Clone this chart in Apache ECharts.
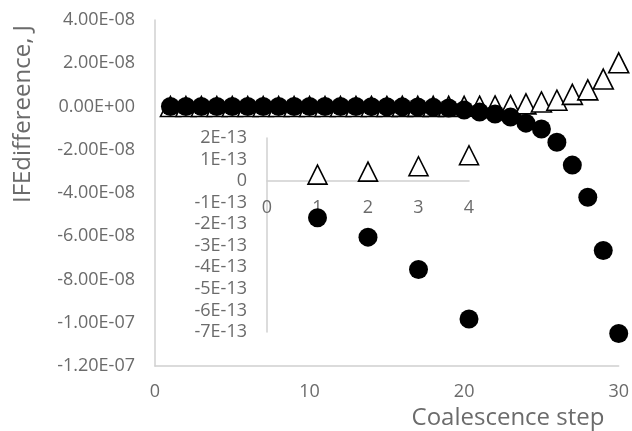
<!DOCTYPE html>
<html><head><meta charset="utf-8">
<script src="https://cdn.jsdelivr.net/npm/echarts@6/dist/echarts.min.js"></script>
<style>html,body{margin:0;padding:0;background:#fff}#c{width:632px;height:431px}</style>
</head><body><div id="c"></div>
<script>
// Coalescence steps
const steps = [1,2,3,4,5,6,7,8,9,10,11,12,13,14,15,16,17,18,19,20,21,22,23,24,25,26,27,28,29,30];
// Filled circles series (J)
const circleValues = [-1.7e-13,-2.6e-13,-4.1e-13,-6.4e-13,-1.0e-12,-1.6e-12,-2.5e-12,-4e-12,-6e-12,-1e-11,
  -1.5e-11,-2.5e-11,-4e-11,-6e-11,-1e-10,-1.6e-10,-2.5e-10,-4e-10,-7e-10,-1.6e-9,
  -2.6e-9,-3.5e-9,-4.9e-9,-7.7e-9,-1.04e-8,-1.65e-8,-2.71e-8,-4.2e-8,-6.66e-8,-1.05e-7];
// Open triangles series (J)
const triangleValues = [3e-14,4.4e-14,6.9e-14,1.2e-13,2e-13,3e-13,5e-13,8e-13,1.3e-12,2e-12,
  3.5e-12,6e-12,1e-11,1.6e-11,2.6e-11,4e-11,5e-11,6e-11,8e-11,1e-10,
  1.5e-10,2.5e-10,5e-10,1.2e-9,2.1e-9,2.9e-9,5.6e-9,7.7e-9,1.27e-8,2.02e-8];
// Inset: first four steps
const insetSteps = steps.slice(0,4);
const insetCircleValues = circleValues.slice(0,4);
const insetTriangleValues = triangleValues.slice(0,4);

const xTitle = 'Coalescence step';
const yTitle = 'IFEdiffereence, J';

const FONT = 'Open Sans';
const LBL = '#6b6b6b';
const AX = '#d0d0d0';
const FS = 18;

function mainFmt(v){
  const s = v.toExponential(2);
  const parts = s.split('e');
  const sign = parts[1][0] === '-' ? '-' : '+';
  let d = parts[1].replace(/[+-]/,'');
  if (d.length < 2) d = '0' + d;
  return parts[0] + 'E' + sign + d;
}
function insetFmt(v){
  if (Math.abs(v) < 1e-15) return '0';
  return v.toExponential(0).replace('e','E').replace('+','');
}
const pair = (xs, ys) => xs.map((x,i)=>[x, ys[i]]);

const insetMin = -7e-13, insetMax = 2e-13;
const insetTop = 138, insetH = 194;
// height of the upper part of the inset (from top down to the zero line)
const insetUpperH = insetH * insetMax / (insetMax - insetMin);

const chart = echarts.init(document.getElementById('c'), null, {renderer:'canvas'});
const triStyle = {color:'#ffffff', borderColor:'#000000', borderWidth:1.6, opacity:1};
const circStyle = {color:'#000000', opacity:1};
const noTick = {show:false};
chart.setOption({
  animation:false,
  grid:[
    {left:155, right:10, top:20, bottom:65},
    {left:267, top:insetTop, width:202, height:insetH},
    {left:267, top:insetTop, width:202, height:insetUpperH}
  ],
  xAxis:[
    {gridIndex:0, type:'value', min:0, max:30, interval:10,
     axisLine:{onZero:false, lineStyle:{color:AX, width:1.5}}, axisTick:noTick, splitLine:{show:false},
     axisLabel:{color:LBL, fontFamily:FONT, fontSize:FS, margin:17}},
    {gridIndex:1, type:'value', min:0, max:4, interval:1, show:false},
    {gridIndex:2, type:'value', min:0, max:4, interval:1,
     axisLine:{onZero:false, lineStyle:{color:AX, width:1.5}}, axisTick:noTick, splitLine:{show:false},
     axisLabel:{color:LBL, fontFamily:FONT, fontSize:FS, margin:18}}
  ],
  yAxis:[
    {gridIndex:0, type:'value', min:-1.2e-7, max:4e-8, interval:2e-8,
     axisLine:{show:true, lineStyle:{color:AX, width:1.5}}, axisTick:noTick, splitLine:{show:false},
     axisLabel:{color:LBL, fontFamily:FONT, fontSize:FS, margin:20, formatter:mainFmt}},
    {gridIndex:1, type:'value', min:insetMin, max:insetMax, interval:1e-13,
     axisLine:{show:true, lineStyle:{color:AX, width:1.5}}, axisTick:noTick, splitLine:{show:false},
     axisLabel:{color:LBL, fontFamily:FONT, fontSize:FS, margin:20, formatter:insetFmt}},
    {gridIndex:2, type:'value', min:0, max:insetMax, show:false}
  ],
  series:[
    {type:'scatter', xAxisIndex:0, yAxisIndex:0, data:pair(steps, triangleValues), symbol:'triangle', symbolSize:[20,20], itemStyle:triStyle, emphasis:{disabled:true}, silent:true},
    {type:'scatter', xAxisIndex:0, yAxisIndex:0, data:pair(steps, circleValues), symbol:'circle', symbolSize:19, itemStyle:circStyle, emphasis:{disabled:true}, silent:true},
    {type:'scatter', xAxisIndex:1, yAxisIndex:1, data:pair(insetSteps, insetTriangleValues), symbol:'triangle', symbolSize:[19,19], itemStyle:triStyle, emphasis:{disabled:true}, silent:true},
    {type:'scatter', xAxisIndex:1, yAxisIndex:1, data:pair(insetSteps, insetCircleValues), symbol:'circle', symbolSize:19, itemStyle:circStyle, emphasis:{disabled:true}, silent:true}
  ],
  graphic:[
    {type:'text', x:508, y:418, style:{text:xTitle, fill:LBL, font:'24px "Open Sans"', align:'center', verticalAlign:'middle'}},
    {type:'text', x:23, y:114, rotation:Math.PI/2, style:{text:yTitle, fill:LBL, font:'24px "Open Sans"', align:'center', verticalAlign:'middle'}}
  ]
});
</script>
</body></html>
